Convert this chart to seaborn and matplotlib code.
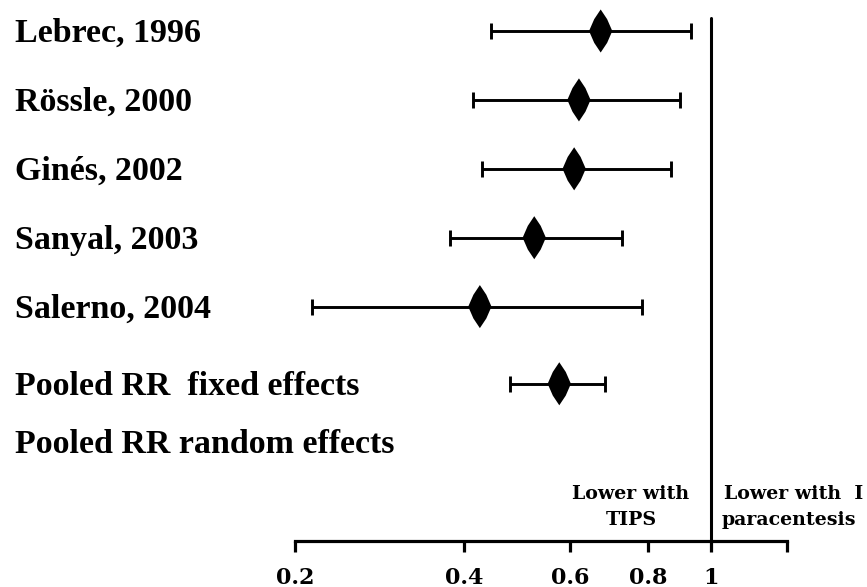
import numpy as np
import pandas as pd
import matplotlib
matplotlib.use("Agg")
import matplotlib.pyplot as plt
import matplotlib.transforms as mtransforms
import seaborn as sns

# ---------------- data ----------------
studies = ["Lebrec, 1996", "Rössle, 2000", "Ginés, 2002", "Sanyal, 2003",
           "Salerno, 2004", "Pooled RR  fixed effects", "Pooled RR random effects"]
rr = [0.672, 0.620, 0.609, 0.524, 0.425, 0.576, np.nan]
ci_low = [0.443, 0.414, 0.429, 0.378, 0.215, 0.478, np.nan]
ci_high = [0.933, 0.895, 0.869, 0.728, 0.783, 0.684, np.nan]
tick_values = [0.2, 0.4, 0.6, 0.8, 1.0, 1.3]
tick_labels = ["0.2", "0.4", "0.6", "0.8", "1", ""]
left_note = ["Lower with", "TIPS"]
right_note = ["Lower with  I", "paracentesis"]

# ---------------- layout ----------------
row_y = [0, 1, 2, 3, 4, 5.12, 5.97]
P = 0.12

df = pd.DataFrame({"study": studies, "rr": rr, "lo": ci_low, "hi": ci_high, "y": row_y})

sns.set_theme(style="white")
plt.rcParams["font.family"] = ["Liberation Serif", "DejaVu Serif"]

W, H = 867, 587
fig = plt.figure(figsize=(W / 100, H / 100), dpi=100)
ax = fig.add_axes([0, 46 / H, 1, 541 / H])

fwd = lambda x: np.power(np.clip(x, 1e-9, None), P)
inv = lambda u: np.power(np.clip(u, 1e-9, None), 1 / P)
ax.set_xscale("function", functions=(fwd, inv))
ax.set_xlim(0.05108, 1.7015)
ax.set_ylim(7.402, -0.45)

d = df.dropna()
ax.errorbar(d["rr"], d["y"], xerr=[d["rr"] - d["lo"], d["hi"] - d["rr"]],
            fmt="none", ecolor="black", elinewidth=2.1, capsize=6, capthick=2.1,
            zorder=2)
diamond = [(0, 1), (0.3, 0.55), (0.54, 0), (0.3, -0.55), (0, -1),
           (-0.3, -0.55), (-0.54, 0), (-0.3, 0.55), (0, 1)]
sns.scatterplot(data=d, x="rr", y="y", marker=diamond, s=31 ** 2, color="black",
                linewidth=0, edgecolor="none", ax=ax, zorder=3, legend=False)

ax.axvline(1.0, ymin=0, ymax=(541 - 18) / 541, color="black", lw=2.2, zorder=1)

for s in ["top", "right", "left"]:
    ax.spines[s].set_visible(False)
ax.spines["bottom"].set_bounds(0.2, 1.3)
ax.spines["bottom"].set_linewidth(2.3)
ax.spines["bottom"].set_color("black")
ax.set_xticks(tick_values)
ax.set_xticklabels(tick_labels)
ax.xaxis.set_minor_locator(matplotlib.ticker.NullLocator())
ax.tick_params(axis="x", which="major", direction="out", length=8, width=2.3,
               color="black", pad=10.5, labelsize=16, bottom=True)
for lab in ax.get_xticklabels():
    lab.set_family("DejaVu Serif")
    lab.set_fontweight("bold")
    lab.set_color("black")
ax.set_yticks([])
ax.set_xlabel("")
ax.set_ylabel("")

blend = mtransforms.blended_transform_factory(fig.transFigure, ax.transData)
lab_tr = mtransforms.offset_copy(blend, fig=fig, x=0, y=-11, units="dots")
for name, yy in zip(studies, row_y):
    ax.text(15 / W, yy, name, transform=lab_tr, ha="left", va="baseline",
            fontsize=24.5, fontweight="bold", color="black",
            family=["Liberation Serif", "DejaVu Serif"], clip_on=False)

note_kw = dict(fontsize=13.7, fontweight="bold", family="DejaVu Serif", color="black",
               va="baseline")
fig.text(631 / W, (H - 499) / H, left_note[0], ha="center", **note_kw)
fig.text(631 / W, (H - 525) / H, left_note[1], ha="center", **note_kw)
fig.text(724 / W, (H - 499) / H, right_note[0], ha="left", **note_kw)
fig.text(722 / W, (H - 525) / H, right_note[1], ha="left", **note_kw)

fig.savefig("out.png", dpi=100, facecolor="white")
